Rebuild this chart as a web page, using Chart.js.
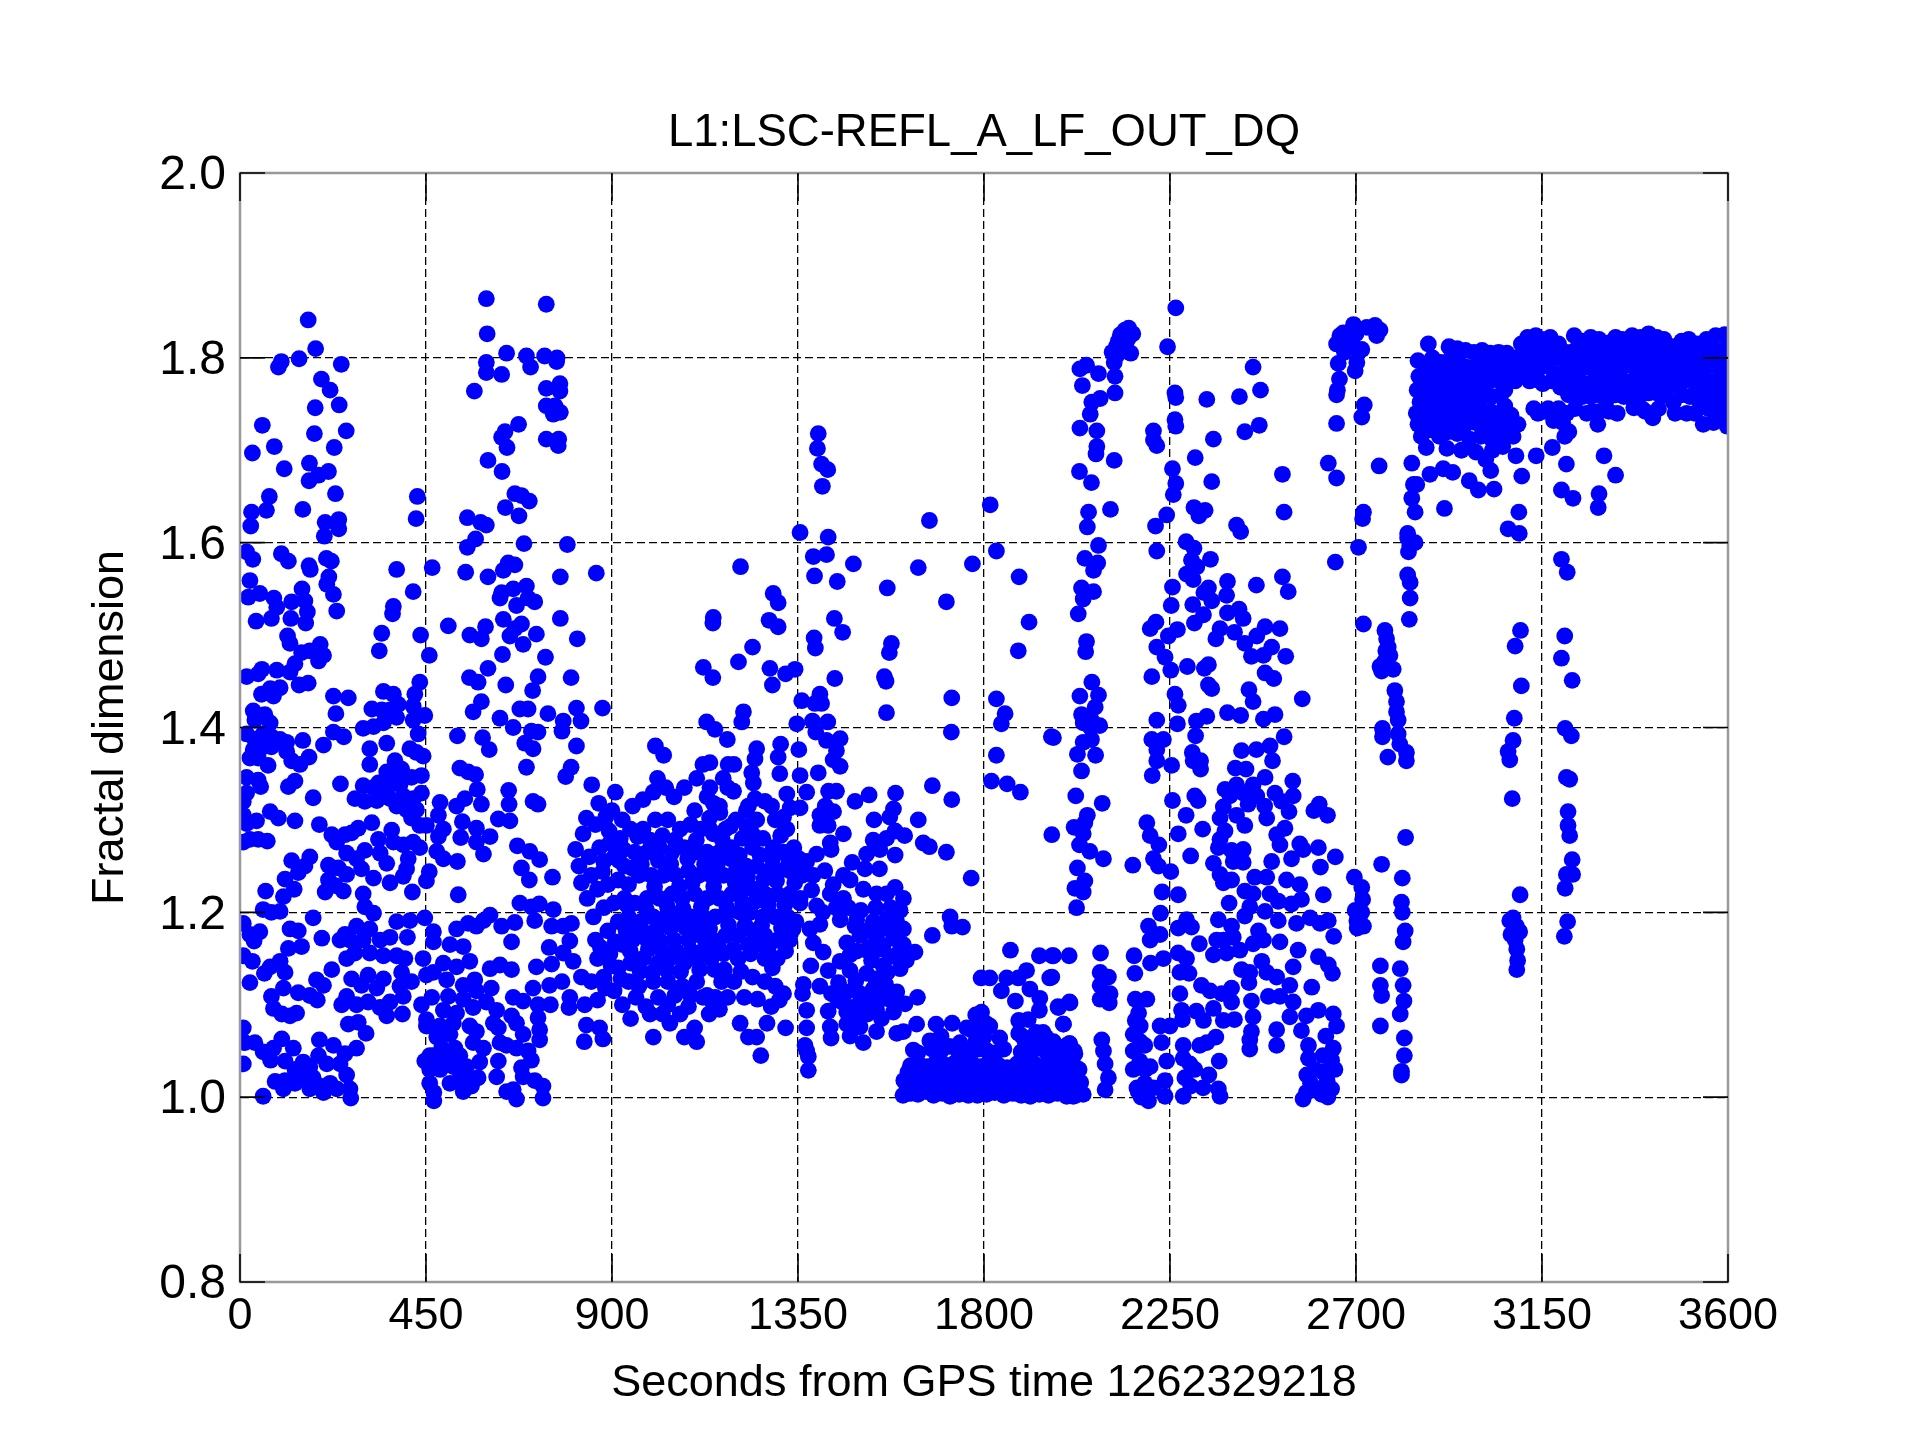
<!DOCTYPE html>
<html><head><meta charset="utf-8">
<style>html,body{margin:0;padding:0;background:#fff}canvas{display:block}</style>
<script src="https://cdn.jsdelivr.net/npm/chart.js@4"></script></head>
<body><div style="width:1920px;height:1440px"><canvas id="c" width="1920" height="1440"></canvas></div>
<script>
const xTickStep = 450;
const yTickStep = 0.2;
const titleText = "L1:LSC-REFL_A_LF_OUT_DQ";
const xLabel = "Seconds from GPS time 1262329218";
const yLabel = "Fractal dimension";
const upperLeft = [[165,1.841],[183,1.81],[143,1.799],[100,1.796],[93,1.79],[245,1.793],[197,1.777],[218,1.765],[182,1.746],[240,1.749],[54,1.727],[257,1.721],[180,1.718],[83,1.704],[228,1.703],[30,1.697],[168,1.686],[107,1.68],[214,1.677],[190,1.673],[167,1.667],[231,1.653],[71,1.65],[28,1.633],[64,1.635],[152,1.636],[26,1.618],[206,1.622],[239,1.625],[239,1.615],[204,1.607],[429,1.65],[426,1.626],
[16,1.59],[31,1.582],[100,1.588],[117,1.58],[167,1.575],[170,1.571],[209,1.583],[221,1.58],[24,1.559],[215,1.563],[210,1.555],[20,1.541],[48,1.545],[82,1.54],[150,1.55],[226,1.544],[125,1.536],[157,1.537],[89,1.53],[163,1.525],[234,1.526],[76,1.518],[123,1.518],[39,1.515],[159,1.513],[115,1.499],[121,1.491],[194,1.49],[202,1.478],[169,1.483],[149,1.481],[190,1.472],[133,1.469],[121,1.46],[53,1.463],[89,1.462],[16,1.455],[44,1.458],[165,1.448],[143,1.446],[97,1.443],[73,1.442],[52,1.436],[81,1.434],[226,1.434],[262,1.432],[232,1.415],[32,1.418],[60,1.414],[36,1.408],[73,1.405],
[379,1.571],[465,1.573],[419,1.547],[371,1.531],[369,1.523],[343,1.502],[337,1.483],[437,1.5],[458,1.478],[435,1.449],[423,1.436],[347,1.439],[371,1.436],[319,1.42],[383,1.425],[343,1.419],[363,1.419],[419,1.423],[447,1.413],[419,1.408],[379,1.411],[298,1.399],[323,1.401],[347,1.405],[431,1.393]];
const upperSecond = [[596,1.864],[741,1.858],[598,1.826],[645,1.805],[693,1.802],[737,1.802],[767,1.8],[596,1.795],[596,1.784],[633,1.782],[703,1.79],[766,1.796],[567,1.764],[774,1.772],[741,1.767],[774,1.764],[741,1.748],[762,1.748],[775,1.741],[758,1.739],[674,1.728],[641,1.72],[633,1.714],[646,1.703],[741,1.712],[771,1.712],[770,1.705],[600,1.689],[634,1.677],[665,1.653],[681,1.651],[700,1.645],[642,1.638],[675,1.629],[550,1.627],[596,1.619],[582,1.622],[570,1.604],[550,1.595],[687,1.599],[792,1.598],
[546,1.568],[600,1.563],[637,1.57],[649,1.578],[665,1.576],[775,1.563],[862,1.567],[661,1.55],[633,1.546],[693,1.553],[629,1.54],[669,1.532],[697,1.54],[713,1.536],[504,1.51],[594,1.509],[637,1.517],[681,1.512],[775,1.518],[556,1.5],[584,1.496],[653,1.499],[665,1.507],[717,1.501],[685,1.49],[816,1.496],[635,1.479],[739,1.476],[600,1.464],[555,1.454],[576,1.449],[721,1.455],[643,1.446],[708,1.44],[801,1.454],[584,1.428],[677,1.42],[697,1.42],[564,1.417],[814,1.421],[877,1.421],[629,1.41],[745,1.415],[782,1.407],[825,1.407],[661,1.4],[705,1.396],[721,1.395],[779,1.396],[526,1.391],[587,1.389],[689,1.383],[709,1.377],[603,1.376],[814,1.38],[693,1.357],[801,1.357],[788,1.347],[532,1.356],[552,1.352],[570,1.349],[574,1.333],[650,1.332],[651,1.317],[709,1.32],[721,1.317],[584,1.317],[544,1.323],[524,1.315],[484,1.319],[480,1.305],[538,1.298],[625,1.301],[653,1.299],[572,1.291],[492,1.29],[480,1.282],[534,1.281],[605,1.282],[572,1.276],[589,1.263],[671,1.272],[701,1.266],[725,1.257],[681,1.248],[700,1.235],[756,1.238],[526,1.255],[476,1.266],[492,1.258],[458,1.244],[451,1.234],[528,1.219],[677,1.21],[724,1.209],[758,1.203],[705,1.206]];
const lowerFirst = [[16,1.393],[36,1.387],[56,1.393],[76,1.39],[97,1.387],[113,1.384],[32,1.376],[56,1.379],[76,1.379],[24,1.367],[44,1.367],[68,1.359],[113,1.374],[125,1.364],[145,1.36],[167,1.368],[152,1.386],[202,1.381],[226,1.395],[251,1.39],[16,1.346],[44,1.343],[50,1.336],[16,1.329],[117,1.336],[133,1.342],[243,1.339],[177,1.324],[8,1.32],[298,1.337],[323,1.335],[314,1.377],[355,1.383],[411,1.377],[427,1.373],[443,1.369],[314,1.36],[375,1.364],[355,1.352],[391,1.355],[371,1.346],[415,1.346],[439,1.348],[335,1.34],[387,1.338],[355,1.332],[439,1.329],[278,1.323],[302,1.32],[331,1.321],[363,1.323],[395,1.326],[419,1.323],[403,1.311],[379,1.315],[427,1.311],[415,1.302],[435,1.294],[451,1.294],[319,1.297],[367,1.289],[286,1.291],
[8,1.305],[40,1.299],[73,1.309],[93,1.302],[133,1.299],[192,1.295],[16,1.296],[8,1.276],[24,1.279],[44,1.279],[66,1.277],[222,1.284],[254,1.284],[234,1.276],[270,1.286],[335,1.279],[371,1.276],[395,1.273],[419,1.276],[435,1.27],[258,1.264],[302,1.267],[282,1.258],[339,1.264],[355,1.253],[407,1.258],[403,1.247],[125,1.256],[169,1.26],[157,1.25],[214,1.251],[238,1.248],[294,1.247],[323,1.237],[109,1.236],[141,1.243],[214,1.235],[258,1.241],[363,1.232],[395,1.239],[131,1.225],[206,1.222],[230,1.229],[250,1.223],[298,1.22],[62,1.223],[105,1.217],[417,1.222],[302,1.206],[56,1.203],[76,1.2],[97,1.201],[323,1.199],
[177,1.194],[8,1.188],[121,1.182],[141,1.18],[48,1.179],[24,1.176],[34,1.169],[198,1.172],[149,1.163],[117,1.161],[254,1.176],[282,1.185],[314,1.182],[379,1.19],[411,1.191],[363,1.173],[405,1.173],[242,1.17],[266,1.17],[298,1.17],[339,1.17],[278,1.156],[314,1.156],[258,1.15],[347,1.153],[379,1.153],[399,1.15],[8,1.153],[30,1.147],[97,1.147],[73,1.141],[109,1.135],[59,1.134],[222,1.138],[391,1.135],[24,1.124],[270,1.128],[310,1.132],[347,1.128],[415,1.125],[185,1.127],[202,1.121],[294,1.121],[331,1.118],[387,1.12],[395,1.109],[105,1.118],[141,1.113],[169,1.11],[187,1.105],[76,1.109],[258,1.109],[246,1.1],[282,1.1],[310,1.103],[339,1.097],[363,1.103],[81,1.096],[101,1.09],[137,1.091],[121,1.088],[355,1.088],[393,1.09],[262,1.079],[286,1.081],[305,1.069],[8,1.075],
[12,1.059],[36,1.059],[56,1.049],[101,1.063],[81,1.053],[129,1.053],[74,1.04],[109,1.039],[192,1.062],[226,1.056],[282,1.053],[254,1.047],[190,1.045],[8,1.036],[153,1.038],[242,1.036],[133,1.03],[169,1.033],[210,1.036],[85,1.017],[109,1.018],[145,1.021],[177,1.021],[258,1.024],[105,1.009],[169,1.009],[218,1.015],[266,1.009],[56,1.001],[202,1.005],[268,0.999],[133,1.015],[194,1.012],[234,1.009]];
const lowerSecond = [[447,1.194],[468,1.179],[468,1.168],[443,1.15],[451,1.132],[464,1.108],[439,1.1],[451,1.084],[451,1.077],[447,1.039],[459,1.045],[459,1.03],[459,1.015],[469,1.005],[469,0.996],
[508,1.165],[540,1.163],[492,1.145],[524,1.141],[556,1.147],[468,1.135],[500,1.127],[540,1.121],[568,1.127],[504,1.109],[540,1.106],[572,1.115],[608,1.118],[492,1.094],[524,1.091],[564,1.097],[596,1.103],[621,1.094],[484,1.077],[516,1.08],[556,1.077],[613,1.08],[476,1.065],[508,1.068],[572,1.071],[625,1.075],[564,1.059],[589,1.053],[488,1.053],[520,1.053],[468,1.045],[500,1.042],[532,1.045],[580,1.038],[484,1.03],[516,1.033],[548,1.033],[508,1.015],[540,1.006],[560,1.012],[576,1.021],[532,1.021],[552,1.021],
[589,1.191],[552,1.188],[572,1.185],[633,1.185],[665,1.189],[605,1.197],[524,1.182],[713,1.191],[754,1.185],[782,1.185],[802,1.188],[657,1.168],[798,1.169],[748,1.162],[605,1.139],[629,1.143],[657,1.138],[717,1.141],[754,1.144],[782,1.156],[806,1.147],[826,1.13],[779,1.125],[709,1.118],[749,1.121],[661,1.108],[685,1.104],[721,1.1],[751,1.1],[798,1.108],[796,1.097],[834,1.1],[657,1.088],[721,1.086],[669,1.08],[685,1.068],[725,1.073],[725,1.062],[838,1.078],[833,1.06],[629,1.059],[645,1.056],[669,1.053],[697,1.05],[705,1.04],[625,1.039],[681,1.032],[621,1.022],[685,1.022],[713,1.018],[733,1.012],[661,1.008],[645,1.006],[669,0.998],[733,0.999]];
const centralCloud = [[830,1.285],[860,1.295],[885,1.303],[900,1.31],[925,1.3],[950,1.315],[975,1.322],[1000,1.33],[1010,1.345],[1005,1.38],[1025,1.37],[1030,1.335],[1050,1.325],[1075,1.335],[1105,1.345],[1120,1.36],[1100,1.31],[1130,1.325],[1160,1.315],[1180,1.335],[1195,1.36],[845,1.26],[870,1.27],[895,1.275],[920,1.28],[945,1.29],[975,1.29],[1005,1.3],[1035,1.3],[1065,1.29],[1090,1.295],[1115,1.29],[1145,1.285],[1175,1.29],[1200,1.3],[1225,1.31],[1250,1.3],[1270,1.32],[1295,1.3],[1320,1.29],
[820,1.25],[850,1.24],[880,1.255],[905,1.26],[930,1.25],[955,1.265],[985,1.265],[1015,1.27],[1045,1.265],[1075,1.27],[1100,1.265],[1130,1.265],[1160,1.265],[1190,1.27],[1215,1.28],[1240,1.27],[1265,1.28],[1290,1.27],[1315,1.265],[1340,1.27],
[840,1.215],[865,1.225],[890,1.23],[915,1.235],[940,1.23],[965,1.24],[995,1.24],[1025,1.24],[1055,1.24],[1085,1.245],[1110,1.24],[1140,1.24],[1170,1.24],[1200,1.245],[1225,1.25],[1250,1.25],[1280,1.245],[1305,1.245],[1330,1.245],[1360,1.24],
[855,1.195],[880,1.205],[905,1.21],[930,1.215],[955,1.21],[985,1.215],[1015,1.215],[1045,1.22],[1070,1.215],[1100,1.22],[1130,1.215],[1160,1.215],[1190,1.22],[1220,1.225],[1245,1.225],[1270,1.22],[1300,1.22],[1330,1.22],[1355,1.215],
[860,1.17],[890,1.18],[915,1.19],[940,1.195],[970,1.19],[1000,1.195],[1030,1.195],[1060,1.195],[1090,1.195],[1120,1.195],[1150,1.195],[1180,1.2],[1210,1.2],[1235,1.2],[1265,1.195],[1295,1.195],[1325,1.195],[1345,1.19],
[865,1.15],[895,1.155],[925,1.165],[950,1.17],[985,1.17],[1015,1.17],[1050,1.17],[1085,1.17],[1115,1.175],[1145,1.17],[1175,1.175],[1205,1.175],[1240,1.18],[1270,1.175],[1300,1.17],[1330,1.17],
[850,1.125],[880,1.13],[915,1.14],[945,1.145],[975,1.15],[1010,1.145],[1040,1.15],[1075,1.145],[1105,1.15],[1140,1.15],[1170,1.155],[1205,1.15],[1235,1.155],[1270,1.15],[1300,1.15],
[865,1.105],[905,1.115],[940,1.125],[965,1.12],[1000,1.125],[1035,1.125],[1070,1.12],[1105,1.125],[1130,1.11],[1165,1.125],[1195,1.125],[1240,1.13],[1270,1.125],[1295,1.12],
[870,1.075],[878,1.063],[925,1.1],[945,1.085],[992,1.09],[1000,1.065],[1035,1.1],[1040,1.08],[1065,1.09],[1075,1.065],[1090,1.11],[1100,1.075],[1105,1.06],[1135,1.09],[1140,1.105],[1160,1.095],[1210,1.08],[1230,1.065],[1250,1.065],[1260,1.045],[1275,1.08],[1305,1.105],[1320,1.075]];
const centralFill = [[812,1.268],[826,1.232],[838,1.302],[851,1.338],[868,1.318],[877,1.244],[893,1.288],[908,1.33],[917,1.256],[928,1.268],[936,1.208],[948,1.248],[962,1.282],[971,1.252],[983,1.203],[992,1.278],[1003,1.228],[1012,1.256],[1022,1.283],[1034,1.206],[1042,1.252],[1052,1.278],[1063,1.228],[1072,1.204],[1083,1.258],[1094,1.232],[1104,1.278],[1116,1.206],[1124,1.252],[1136,1.302],[1146,1.228],[1155,1.252],[1167,1.278],[1178,1.205],[1187,1.258],[1198,1.232],[1208,1.262],[1216,1.21],[1228,1.238],[1238,1.286],[1247,1.212],[1258,1.262],[1268,1.236],[1278,1.208],[1288,1.258],[1298,1.234],[1308,1.283],[1318,1.208],[1328,1.256],[1342,1.232],[1352,1.258],
[872,1.162],[884,1.118],[898,1.142],[908,1.168],[922,1.128],[934,1.18],[944,1.158],[958,1.186],[968,1.136],[978,1.178],[988,1.16],[998,1.135],[1008,1.182],[1022,1.158],[1032,1.138],[1042,1.183],[1056,1.158],[1066,1.136],[1078,1.183],[1092,1.158],[1102,1.182],[1112,1.138],[1126,1.163],[1136,1.182],[1148,1.138],[1158,1.162],[1172,1.138],[1182,1.186],[1194,1.16],[1212,1.136],[1222,1.186],[1230,1.165],[1252,1.165],[1262,1.186],[1278,1.162],[1288,1.14],[1310,1.183],[1320,1.158],[1338,1.182],
[958,1.108],[982,1.098],[1012,1.108],[1022,1.09],[1052,1.11],[1085,1.098],[1120,1.108],[1150,1.108],[1180,1.108],[1220,1.108],[1252,1.106],[1285,1.098],[1315,1.112]];
const middleUpper = [[1399,1.718],[1397,1.702],[1407,1.685],[1422,1.679],[1409,1.661],[1815,1.641],[1668,1.624],[1355,1.611],[1423,1.606],[1387,1.585],[1419,1.587],[1211,1.574],[1484,1.577],[1390,1.564],[1445,1.558],[1641,1.573],[1772,1.577],[1830,1.591],[1885,1.563],[1566,1.551],[1709,1.536],[1909,1.514],[1290,1.545],[1302,1.535],[1280,1.516],[1302,1.509],[1145,1.519],[1144,1.513],[1438,1.518],[1458,1.503],[1389,1.497],[1392,1.486],[1240,1.487],[1576,1.491],[1571,1.481],[1883,1.483],[1206,1.471],[1121,1.465],[1144,1.454],[1282,1.464],[1320,1.458],[1343,1.463],[1288,1.446],[1439,1.453],[1559,1.455],[1563,1.45],[1359,1.429],[1403,1.436],[1407,1.426],[1391,1.426],[1722,1.432],[1830,1.431],[1851,1.415],[1842,1.404],[1564,1.416],[1218,1.417],[1214,1.406],[1129,1.406],[1149,1.398],[1347,1.404],[1385,1.407],[1422,1.406],[1393,1.395],[1721,1.395],[1179,1.387],[1419,1.386],[1452,1.388],[1443,1.375],[1963,1.39],[1830,1.37],[1250,1.377],[1308,1.382],[1352,1.376],[1246,1.366],[1137,1.362],[1181,1.36],[1302,1.368],[1435,1.365],[1452,1.358],[1399,1.351],[1306,1.35],[1355,1.348],[1238,1.351],[1169,1.345],[1242,1.34],[1818,1.342],[1856,1.339],[1888,1.33],[1675,1.337],[1722,1.322],[1137,1.335],[1194,1.331],[1323,1.328],[1371,1.33],[1424,1.331],[1443,1.331],[1488,1.32],[1522,1.327],[1586,1.329],[1145,1.318],[1246,1.323],[1286,1.315],[1331,1.313],[1581,1.312],[1416,1.315],[1436,1.309],[1161,1.308],[1230,1.315],[1315,1.303],[1355,1.313],[1534,1.3],[1572,1.303],[1641,1.3],[1403,1.305],[1403,1.294],[1423,1.294],[1323,1.29],[1186,1.293],[1226,1.293],[1137,1.29],[1585,1.288],[1608,1.283],[1460,1.285],[1428,1.275],[1430,1.268],[1653,1.275],[1668,1.271],[1709,1.265],[1564,1.28],[1532,1.278],[1548,1.268],[1585,1.262],[1516,1.263],[1481,1.254],[1512,1.247],[1547,1.247],[1769,1.237],
[1395,1.263],[1371,1.255],[1387,1.24],[1383,1.224],[1355,1.245],[1415,1.245],[1435,1.23],[1460,1.24],[1476,1.235],[1460,1.215],[1428,1.22],[1395,1.207],[1355,1.21],[1508,1.225],[1540,1.22],[1585,1.227],[1605,1.215],[1564,1.22],[1597,1.202]];
const middleLower = [[1452,1.192],[1403,1.187],[1379,1.182],[1492,1.192],[1532,1.19],[1564,1.192],[1589,1.19],[1605,1.182],[1387,1.167],[1411,1.157],[1468,1.167],[1500,1.175],[1540,1.175],[1581,1.172],[1605,1.165],[1633,1.157],[1675,1.175],[1718,1.195],[1722,1.185],[1748,1.184],[1381,1.142],[1423,1.137],[1476,1.154],[1452,1.147],[1516,1.159],[1556,1.164],[1589,1.154],[1597,1.139],[1556,1.142],[1516,1.134],[1476,1.137],[1448,1.124],[1363,1.122],[1403,1.12],[1361,1.112],[1431,1.112],[1468,1.114],[1500,1.112],[1532,1.117],[1589,1.114],[1639,1.108],[1460,1.102],[1492,1.099],[1524,1.104],[1556,1.107],[1609,1.101],[1581,1.092],[1371,1.094],[1423,1.093],[1468,1.092],[1508,1.089],[1371,1.075],[1428,1.076],[1468,1.079],[1500,1.076],[1540,1.071],[1589,1.069],[1637,1.079],[1605,1.071],[1430,1.064],[1476,1.066],[1508,1.059],[1367,1.056],[1375,1.044],[1375,1.029],[1371,1.05],
[1410,1.2],[1442,1.205],[1472,1.205],[1502,1.202],[1538,1.205],[1574,1.205],[1488,1.185],[1516,1.18],[1552,1.182],[1576,1.185],[1492,1.158],[1528,1.148],[1566,1.135],[1538,1.128],[1490,1.126],[1522,1.162],[1572,1.152],[1598,1.16],[1546,1.16],[1612,1.148],[1446,1.105],[1484,1.09],[1540,1.095],[1562,1.122],[1574,1.105],[1518,1.09],[1552,1.085]];
const lowBand = [[1684,1.079],[1723,1.08],[1780,1.089],[1794,1.092],[1814,1.077],[1838,1.064],[1629,1.051],[1669,1.061],[1742,1.059],[1780,1.06],[1758,1.075],[1800,1.065],
[1604,1.002],[1622,1.004],[1640,1.003],[1660,1.006],[1678,1.002],[1700,1.004],[1718,1.001],[1740,1.003],[1762,1.002],[1784,1.002],[1806,1.003],[1826,1.005],[1848,1.002],[1870,1.004],[1890,1.002],[1912,1.001],[1934,1.003],[1956,1.002],[1978,1.004],[2000,1.001],[2022,1.002],[2040,1.003],
[1606,1.018],[1628,1.02],[1648,1.017],[1668,1.022],[1690,1.019],[1712,1.02],[1732,1.018],[1752,1.021],[1774,1.017],[1796,1.022],[1818,1.019],[1840,1.018],[1862,1.021],[1882,1.018],[1904,1.02],[1926,1.019],[1948,1.017],[1970,1.021],[1992,1.019],[2012,1.018],[2034,1.016],
[1622,1.034],[1642,1.036],[1662,1.033],[1684,1.038],[1704,1.035],[1726,1.036],[1748,1.034],[1770,1.037],[1792,1.033],[1812,1.038],[1834,1.035],[1856,1.032],[1880,1.036],[1900,1.034],[1922,1.036],[1944,1.033],[1966,1.037],[1988,1.034],[2010,1.035],[2030,1.03],
[1640,1.048],[1674,1.052],[1696,1.05],[1716,1.055],[1738,1.049],[1764,1.048],[1788,1.052],[1808,1.05],[1828,1.048],[1848,1.052],[1890,1.049],[1912,1.05],[1932,1.053],[1952,1.048],[1972,1.05],[1998,1.048],[2018,1.05],
[1696,1.066],[1772,1.072],[1790,1.078],[1804,1.08],[1892,1.066],[1926,1.07],[1950,1.065],[1968,1.06],[2007,1.058],
[1614,1.01],[1634,1.012],[1654,1.011],[1674,1.01],[1696,1.011],[1722,1.01],[1744,1.012],[1768,1.009],[1790,1.011],[1812,1.01],[1836,1.011],[1858,1.012],[1878,1.01],[1900,1.011],[1922,1.009],[1944,1.011],[1966,1.01],[1988,1.012],[2008,1.009],[2028,1.01],
[1616,1.027],[1638,1.028],[1658,1.027],[1680,1.029],[1702,1.027],[1722,1.028],[1744,1.027],[1764,1.029],[1786,1.027],[1808,1.028],[1828,1.027],[1850,1.026],[1872,1.028],[1894,1.027],[1916,1.028],[1938,1.026],[1960,1.028],[1982,1.027],[2002,1.028],[2024,1.024],
[1864,1.159],[1934,1.153],[1965,1.153],[2006,1.153],[1793,1.129],[1814,1.129],[1855,1.129],[1883,1.129],[1903,1.137],[1959,1.129],[1842,1.115],[1911,1.117],[1935,1.107],[1876,1.104],[1979,1.098],[2007,1.103],[1884,1.083],[1907,1.084],[1934,1.094],[1992,1.079],[1884,1.069],[1943,1.07],[1899,1.061],[1955,1.056],[2007,1.058],[1919,1.056],
[1968,1.153],[2082,1.156],[2163,1.153],[2081,1.135],[2101,1.13],[2165,1.134],[1964,1.13],[2081,1.121],[2105,1.112],[2081,1.106],[2103,1.102],[2008,1.102],[1980,1.097],[1992,1.079],[2166,1.106],[2194,1.106],[2174,1.091],[2178,1.077],[2166,1.083],[2085,1.062],[2089,1.05],[2093,1.036],[2101,1.021],[2093,1.008],[2000,1.056],[2020,1.047],[2020,1.033],[2008,1.015],[2016,1.001],[1979,1.009],[2161,1.05],[2189,1.056],[2177,1.039],[2161,1.03],[2202,1.033],[2189,1.015],[2161,1.068],[2178,1.06],[2190,1.03],[2170,1.01],[2180,1.0],[2210,1.01]];
const column2050 = [[2264,1.854],[2244,1.812],[2141,1.83],[2130,1.825],[2125,1.818],[2150,1.832],[2160,1.826],[2148,1.82],[2135,1.815],[2120,1.812],[2110,1.806],[2122,1.803],[2140,1.808],[2155,1.805],[2115,1.795],[2032,1.788],[2048,1.792],[2077,1.783],[2117,1.78],[2038,1.77],[2117,1.762],[2081,1.756],[2061,1.752],[2057,1.739],[2032,1.724],[2073,1.721],[2073,1.704],[2071,1.696],[2115,1.689],[2031,1.677],[2060,1.665],[2053,1.633],[2106,1.636],[2050,1.617],[2077,1.597],[2044,1.583],[2075,1.578],[2065,1.57],[2036,1.551],[2065,1.547],[2040,1.539],[2028,1.523],[2048,1.493],[2046,1.482],[2061,1.449],[2032,1.434],[2077,1.435],[2069,1.422],[2036,1.414],[2060,1.408],[2080,1.402],[1968,1.389],[2040,1.384],[2060,1.387],[2026,1.371],[2036,1.353],[2022,1.326],[2086,1.318],[2050,1.305],[2018,1.292],[2044,1.297],[2040,1.285],[1964,1.284],[2031,1.273],[2056,1.266],[2089,1.258],[2026,1.248],[2044,1.234],[2020,1.226],[2040,1.222],[2024,1.205],[2058,1.4],[2040,1.405],[2070,1.37]];
const column2300 = [[2262,1.762],[2264,1.757],[2339,1.755],[2418,1.758],[2469,1.765],[2451,1.79],[2262,1.733],[2264,1.726],[2210,1.721],[2466,1.727],[2431,1.72],[2210,1.711],[2218,1.705],[2355,1.712],[2311,1.692],[2256,1.68],[2264,1.664],[2258,1.652],[2351,1.666],[2522,1.674],[2308,1.638],[2335,1.635],[2320,1.629],[2242,1.63],[2215,1.618],[2411,1.619],[2421,1.612],[2526,1.633],[2218,1.591],[2289,1.601],[2308,1.594],[2348,1.582],[2302,1.581],[2315,1.574],[2290,1.566],[2306,1.56],[2256,1.552],[2389,1.558],[2459,1.554],[2522,1.563],[2536,1.547],[2343,1.551],[2332,1.546],[2351,1.537],[2387,1.543],[2253,1.532],[2305,1.533],[2389,1.524],[2417,1.528],[2331,1.522],[2309,1.513],[2427,1.518],[2216,1.514],[2202,1.507],[2268,1.506],[2371,1.507],[2406,1.503],[2480,1.509],[2460,1.499],[2516,1.507],[2246,1.499],[2361,1.496],[2431,1.491],[2496,1.487],[2218,1.487],[2238,1.476],[2447,1.477],[2476,1.478],[2530,1.477],[2292,1.466],[2343,1.468],[2333,1.464],[2252,1.462],[2206,1.455],[2480,1.459],[2501,1.453],[2343,1.446],[2351,1.442],[2262,1.436],[2441,1.441],[2451,1.428],[2570,1.431],[2270,1.424],[2218,1.408],[2389,1.416],[2421,1.413],[2339,1.412],[2314,1.407],[2476,1.409],[2504,1.414],[2268,1.404],[2312,1.391],[2526,1.39],[2206,1.387],[2234,1.387],[2218,1.376],[2423,1.375],[2459,1.376],[2492,1.38],[2304,1.373],[2306,1.364],[2324,1.364],[2498,1.364],[2218,1.364],[2254,1.359],[2324,1.355],[2207,1.348],[2408,1.356],[2434,1.355],[2480,1.346],[2547,1.342],[2383,1.333],[2411,1.338],[2451,1.338],[2395,1.326],[2427,1.329],[2460,1.326],[2504,1.329],[2548,1.326],[2256,1.321],[2310,1.326],[2318,1.321],[2439,1.317],[2479,1.315],[2520,1.32],[2379,1.314],[2538,1.309],[2611,1.317],[2598,1.31],[2631,1.305],[2484,1.302],[2289,1.305],[2371,1.302],[2411,1.305],[2194,1.297],[2431,1.294],[2329,1.29],[2383,1.288],[2202,1.283],[2270,1.285],[2371,1.279],[2528,1.291],[2508,1.284],[2223,1.273],[2399,1.267],[2367,1.27],[2427,1.268],[2516,1.273],[2564,1.274],[2572,1.268],[2609,1.27],[2650,1.26],[2160,1.251],[2210,1.258],[2300,1.261],[2403,1.255],[2427,1.254],[2496,1.255],[2544,1.258],[2614,1.249],[2355,1.253],[2222,1.25],[2252,1.244],[2371,1.241],[2399,1.235],[2455,1.238],[2484,1.238],[2532,1.235],[2379,1.232],[2564,1.23],[2231,1.222],[2270,1.219],[2431,1.223],[2451,1.22],[2492,1.22],[2621,1.219],[2568,1.214],[2393,1.21],[2512,1.212],[2544,1.209],[2227,1.199],[2443,1.206],[2480,1.201]];
const lower2300 = [[2290,1.192],[2270,1.183],[2302,1.184],[2367,1.192],[2399,1.185],[2431,1.196],[2512,1.191],[2556,1.188],[2589,1.194],[2613,1.188],[2633,1.191],[2646,1.174],[2464,1.18],[2379,1.17],[2363,1.17],[2403,1.173],[2451,1.166],[2476,1.17],[2516,1.168],[2202,1.17],[2226,1.176],[2198,1.185],[2321,1.166],[2355,1.154],[2387,1.156],[2419,1.159],[2270,1.156],[2290,1.15],[2203,1.145],[2234,1.15],[2560,1.159],[2609,1.152],[2633,1.143],[2643,1.134],[2472,1.147],[2548,1.141],[2423,1.138],[2443,1.135],[2484,1.135],[2508,1.13],[2274,1.135],[2296,1.134],[2441,1.124],[2326,1.121],[2347,1.115],[2593,1.119],[2540,1.121],[2274,1.112],[2375,1.112],[2399,1.118],[2399,1.103],[2488,1.109],[2447,1.104],[2516,1.109],[2548,1.103],[2278,1.094],[2314,1.093],[2355,1.096],[2540,1.087],[2609,1.094],[2645,1.09],[2280,1.084],[2331,1.083],[2379,1.083],[2406,1.084],[2451,1.087],[2580,1.088],[2653,1.077],[2226,1.077],[2250,1.077],[2447,1.071],[2508,1.073],[2568,1.072],[2361,1.065],[2443,1.062],[2508,1.056],[2627,1.066],[2443,1.052],[2282,1.056],[2322,1.056],[2339,1.059],[2585,1.056],[2645,1.053],[2230,1.059],[2585,1.042],[2641,1.04],[2282,1.042],[2369,1.039],[2242,1.039],[2298,1.036],[2581,1.024],[2621,1.027],[2649,1.03],[2238,1.018],[2286,1.021],[2344,1.024],[2605,1.009],[2641,1.009],[2572,0.998],[2617,1.003],[2371,1.001],[2367,1.009],[2282,1.001],[2238,1.001],[2198,0.996],[2173,1.006],[2600,1.03],[2620,1.045],[2590,1.015],[2630,1.018],[2580,1.005],[2632,1.0],[2310,1.03],[2330,1.01],[2300,1.012]];
const columns2700 = [[2657,1.815],[2669,1.827],[2694,1.836],[2726,1.833],[2746,1.835],[2758,1.83],[2750,1.824],[2661,1.824],[2653,1.815],[2685,1.812],[2714,1.809],[2657,1.794],[2702,1.795],[2698,1.786],[2660,1.777],[2655,1.765],[2653,1.76],[2720,1.749],[2714,1.736],[2653,1.729],[2633,1.686],[2653,1.67],[2756,1.683],[2718,1.633],[2716,1.626],[2706,1.595],[2650,1.579],[2718,1.512],[2680,1.82],[2700,1.826],[2672,1.806],[2700,1.81],
[2770,1.505],[2774,1.496],[2778,1.487],[2770,1.472],[2790,1.463],[2762,1.461],[2782,1.478],[2758,1.466],[2776,1.468],[2772,1.483],[2794,1.44],[2798,1.428],[2798,1.417],[2802,1.408],[2802,1.393],[2806,1.382],[2822,1.373],[2822,1.364],[2764,1.399],[2764,1.39],[2777,1.368],
[2820,1.281],[2762,1.252],[2812,1.237],[2810,1.211],[2812,1.2],[2819,1.18],[2814,1.168],[2807,1.139],[2814,1.121],[2816,1.104],[2807,1.09],[2817,1.064],[2817,1.045],[2810,1.028],[2810,1.024],[2759,1.142],[2759,1.121],[2762,1.11],[2759,1.077],
[2696,1.238],[2714,1.227],[2716,1.214],[2698,1.202],[2714,1.2],[2703,1.183],[2718,1.185],[2702,1.191],
[2835,1.686],[2839,1.663],[2835,1.648],[2843,1.633],[2825,1.61],[2843,1.6],[2827,1.59],[2825,1.565],[2831,1.557],[2831,1.54],[2829,1.517],[2847,1.663],[2825,1.605],[2830,1.597]];
const columns3100 = [[2914,1.637],[2875,1.815],[2879,1.674],[2911,1.68],[2934,1.676],[2974,1.667],[2996,1.657],[3034,1.658],[3026,1.678],[3087,1.694],[3101,1.672],[3094,1.633],[3068,1.615],[3095,1.61],[3136,1.694],[3175,1.703],[3209,1.685],[3197,1.657],[3225,1.648],[3300,1.694],[3328,1.673],[3288,1.653],[3286,1.638],[3197,1.582],[3211,1.568],
[3098,1.505],[3085,1.488],[3100,1.445],[3083,1.41],[3080,1.386],[3068,1.374],[3072,1.365],[3078,1.323],[3097,1.219],[3072,1.191],[3080,1.194],[3088,1.185],[3096,1.179],[3075,1.176],[3085,1.17],[3089,1.16],[3091,1.148],[3089,1.138],
[3205,1.499],[3197,1.475],[3223,1.451],[3206,1.399],[3221,1.391],[3209,1.346],[3217,1.344],[3213,1.309],[3213,1.294],[3217,1.283],[3223,1.257],[3224,1.241],[3209,1.241],[3206,1.226],[3212,1.19],[3204,1.174]];
const topBandA = [[2850,1.797],[2852,1.78],[2848,1.765],[2855,1.752],[2846,1.74],[2850,1.728],[2858,1.715],[2868,1.79],[2870,1.772],[2866,1.758],[2872,1.745],[2865,1.73],[2885,1.8],[2888,1.785],[2884,1.768],[2890,1.752],[2886,1.738],[2882,1.722],[2870,1.703],[2905,1.795],[2908,1.778],[2903,1.762],[2910,1.746],[2906,1.73],[2902,1.715],[2925,1.812],[2927,1.798],[2924,1.782],[2928,1.766],[2923,1.75],[2927,1.734],[2922,1.72],[2920,1.702],[2945,1.81],[2947,1.795],[2943,1.778],[2948,1.762],[2944,1.746],[2949,1.73],[2945,1.718],[2965,1.808],[2967,1.79],[2964,1.774],[2968,1.758],[2965,1.742],[2962,1.726],[2985,1.806],[2987,1.79],[2983,1.775],[2988,1.76],[2984,1.744],[2989,1.73],[2975,1.712],[3005,1.808],[3008,1.792],[3004,1.776],[3009,1.76],[3003,1.745],[3007,1.73],[3002,1.715],[3025,1.805],[3028,1.79],[3024,1.775],[3029,1.758],[3026,1.742],[3022,1.728],[3028,1.712],[3045,1.806],[3048,1.792],[3044,1.776],[3050,1.76],[3046,1.735],[3050,1.722],[3040,1.712],[3065,1.805],[3068,1.79],[3062,1.776],[3060,1.765],[3070,1.73],[3062,1.72],[3088,1.8],[3090,1.785],[3085,1.775],[3092,1.728],[3060,1.748],[3075,1.738],[3080,1.715],[2955,1.7],[2990,1.698],[3030,1.7],[3055,1.704],[3014,1.69]];
const topBandB = [[3100,1.815],[3105,1.8],[3102,1.785],[3115,1.822],[3118,1.808],[3114,1.79],[3120,1.775],[3135,1.824],[3138,1.808],[3132,1.792],[3140,1.776],[3130,1.745],[3140,1.74],[3150,1.82],[3155,1.805],[3148,1.79],[3152,1.772],[3155,1.742],[3170,1.822],[3172,1.806],[3168,1.79],[3174,1.775],[3165,1.745],[3178,1.732],[3190,1.815],[3192,1.8],[3190,1.782],[3195,1.768],[3190,1.745],[3200,1.73],[3205,1.715],[3210,1.806],[3212,1.79],[3208,1.775],[3214,1.76],[3210,1.74],[3215,1.72],[3228,1.824],[3230,1.808],[3226,1.792],[3232,1.776],[3228,1.762],[3230,1.745],[3248,1.818],[3250,1.804],[3246,1.788],[3252,1.772],[3248,1.758],[3258,1.74],[3268,1.822],[3270,1.806],[3266,1.79],[3272,1.774],[3268,1.758],[3272,1.742],[3288,1.82],[3290,1.805],[3286,1.79],[3292,1.775],[3288,1.76],[3290,1.742],[3285,1.728],[3308,1.816],[3310,1.8],[3306,1.786],[3312,1.77],[3308,1.756],[3312,1.742],[3328,1.822],[3330,1.806],[3326,1.79],[3332,1.775],[3328,1.76],[3332,1.74],[3345,1.82],[3350,1.805],[3346,1.79],[3352,1.774],[3348,1.758],[3368,1.824],[3370,1.808],[3366,1.792],[3372,1.776],[3368,1.76],[3372,1.746],[3388,1.822],[3390,1.806],[3386,1.79],[3392,1.775],[3388,1.76],[3392,1.745],[3408,1.826],[3410,1.81],[3406,1.794],[3412,1.778],[3408,1.762],[3400,1.742],[3418,1.735],[3428,1.822],[3430,1.806],[3426,1.79],[3432,1.776],[3428,1.762],[3432,1.745],[3445,1.82],[3450,1.805],[3446,1.79],[3452,1.775],[3448,1.76],[3465,1.812],[3470,1.798],[3466,1.783],[3472,1.77],[3468,1.752],[3472,1.74],[3488,1.818],[3490,1.804],[3486,1.79],[3492,1.775],[3488,1.76],[3505,1.82],[3510,1.805],[3506,1.79],[3512,1.775],[3508,1.758],[3500,1.74],[3525,1.815],[3530,1.8],[3526,1.785],[3532,1.77],[3528,1.755],[3520,1.74],[3548,1.82],[3550,1.806],[3546,1.79],[3552,1.775],[3548,1.76],[3552,1.745],[3540,1.728],[3570,1.824],[3572,1.808],[3568,1.792],[3574,1.776],[3570,1.76],[3572,1.744],[3565,1.73],[3592,1.825],[3594,1.81],[3590,1.795],[3596,1.78],[3592,1.765],[3594,1.748],[3590,1.735],[3598,1.726]];

const seriesParts = [upperLeft, upperSecond, lowerFirst, lowerSecond, centralCloud, centralFill, middleUpper, middleLower, lowBand, column2050, column2300, lower2300, columns2700, columns3100, topBandA, topBandB];
const points = seriesParts.flat().map(p => ({x: p[0], y: p[1]}));

const FONT = "'Liberation Sans', Arial, sans-serif";
const frameAndTicks = {
  id: 'frameAndTicks',
  afterDatasetsDraw(chart) {
    const {ctx, chartArea: a, scales: {x, y}} = chart;
    ctx.save();
    ctx.strokeStyle = '#999'; ctx.lineWidth = 2.5;
    ctx.strokeRect(a.left, a.top, a.right - a.left, a.bottom - a.top);
    ctx.strokeStyle = '#000'; ctx.lineWidth = 1.6;
    ctx.beginPath();
    x.ticks.forEach(t => { const px = x.getPixelForValue(t.value);
      ctx.moveTo(px, a.bottom); ctx.lineTo(px, a.bottom - 28);
      ctx.moveTo(px, a.top); ctx.lineTo(px, a.top + 28); });
    y.ticks.forEach(t => { const py = y.getPixelForValue(t.value);
      ctx.moveTo(a.left, py); ctx.lineTo(a.left + 25, py);
      ctx.moveTo(a.right, py); ctx.lineTo(a.right - 25, py); });
    ctx.stroke();
    ctx.restore();
  }
};
new Chart(document.getElementById('c').getContext('2d'), {
  type: 'scatter',
  data: {datasets: [{data: points, backgroundColor: '#0000ff', borderWidth: 0, pointRadius: 8.4, pointHoverRadius: 8.4, clip: 0}]},
  options: {
    responsive: false, animation: false,
    layout: {padding: {left: 0, right: 192, top: 0, bottom: 0}},
    plugins: {
      legend: {display: false},
      tooltip: {enabled: false},
      title: {display: true, fullSize: false, text: titleText, color: '#000', font: {family: FONT, size: 45.5, weight: 'normal'}, padding: {top: 106, bottom: 12.4}}
    },
    scales: {
      x: {type: 'linear', min: 0, max: 3600,
        afterFit(s) { s.height = 158; },
        grid: {color: '#000', lineWidth: 1.3, drawTicks: false},
        border: {dash: [8, 4], color: '#000', width: 1},
        ticks: {stepSize: xTickStep, maxRotation: 0, autoSkip: false, color: '#000', padding: 8, font: {family: FONT, size: 45}, callback: v => String(v)},
        title: {display: true, text: xLabel, color: '#000', font: {family: FONT, size: 45}, padding: {top: 0, bottom: 29}}
      },
      y: {type: 'linear', min: 0.8, max: 2,
        afterFit(s) { s.width = 240; },
        grid: {color: '#000', lineWidth: 1.3, drawTicks: false},
        border: {dash: [8, 4], color: '#000', width: 1},
        ticks: {stepSize: yTickStep, color: '#000', padding: 14, labelOffset: 3, font: {family: FONT, size: 48}, callback: v => Number(v).toFixed(1)},
        title: {display: true, text: yLabel, color: '#000', font: {family: FONT, size: 45}, padding: {top: 84, bottom: 0}}
      }
    }
  },
  plugins: [frameAndTicks]
});
</script></body></html>
